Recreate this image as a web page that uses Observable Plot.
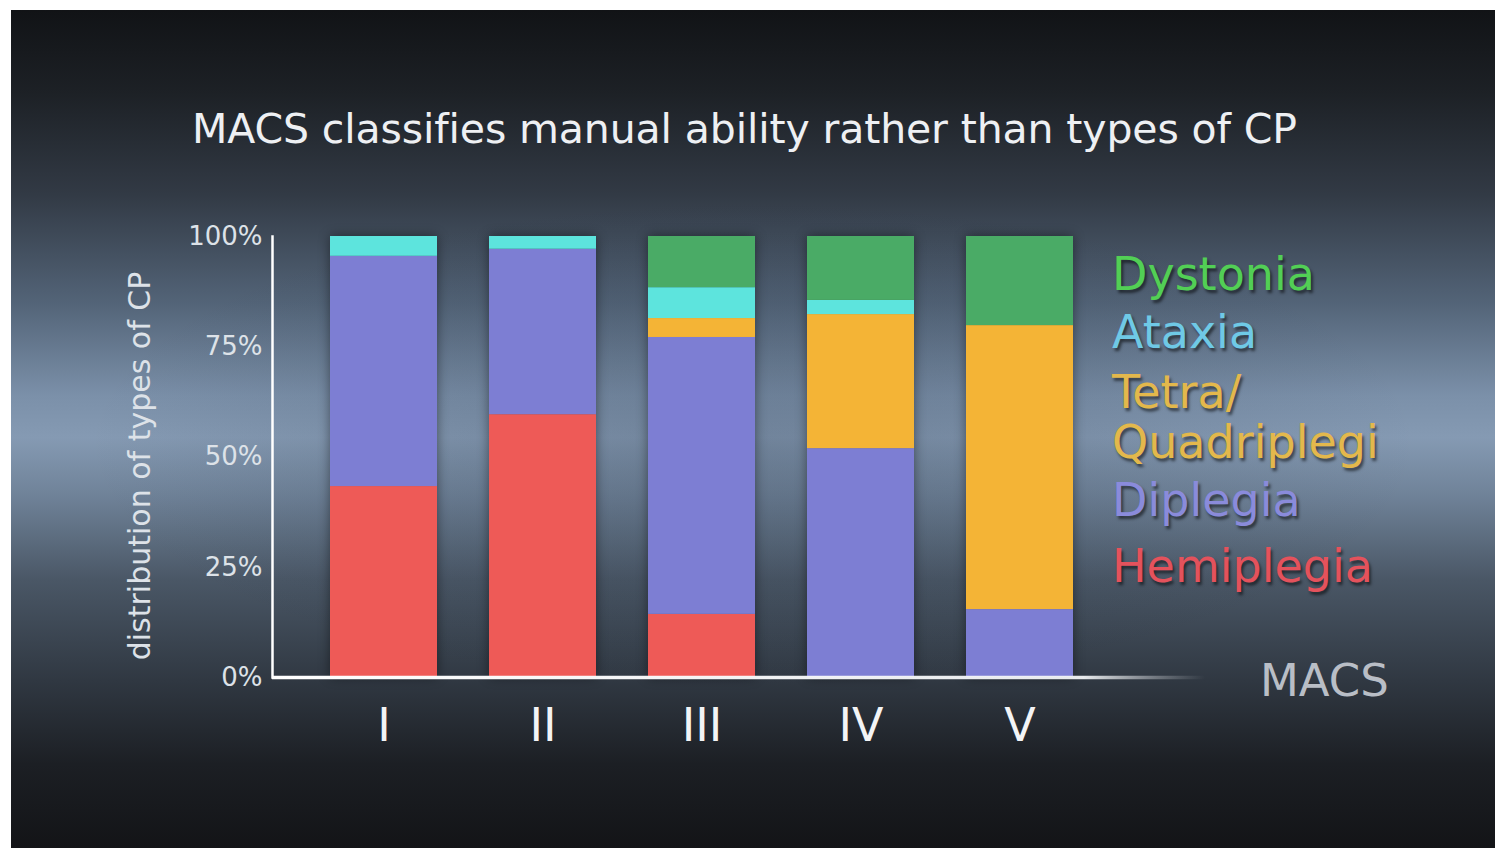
<!DOCTYPE html>
<html>
<head>
<meta charset="utf-8">
<script src="https://cdn.jsdelivr.net/npm/d3@7"></script>
<script src="https://cdn.jsdelivr.net/npm/@observablehq/plot@0.6"></script>
<style>
  html, body { margin: 0; padding: 0; background: #fff; width: 1495px; height: 848px; overflow: hidden; }
  #wrap {
    position: absolute; left: 11px; top: 10px; width: 1484px; height: 838px; overflow: hidden;
    font-family: "DejaVu Sans", sans-serif;
    background:
      radial-gradient(ellipse 45% 30% at 50% 52%, rgba(20,30,45,0.18), rgba(20,30,45,0) 100%),
      linear-gradient(to bottom, #111316 0%, #1d2126 10%, #323a45 22%, #536478 35%, #7b90a9 46%, #859ab3 51%, #6f8298 58%, #4a5766 68%, #303842 80%, #1c1f24 90%, #131417 100%);
  }
  #chart { position: absolute; left: 0; top: 0; }
  #title { position: absolute; left: 181px; top: 99px; font-size: 41px; line-height: 40px; color: #eef0f3; white-space: nowrap; }
  #legend { position: absolute; left: 1101px; top: 235px; font-size: 46px; }
  .entry { line-height: 58px; white-space: nowrap; text-shadow: 2px 3px 3px rgba(0,0,0,0.55); }
  .entry.two { line-height: 50px; margin-top: 6px; }
  .entry.e3 { margin-top: 4px; }
  .entry.e4 { margin-top: 8px; }
  #xname { position: absolute; left: 1249px; top: 648px; font-size: 45px; line-height: 45px; color: #b9bec6; white-space: nowrap; }
</style>
</head>
<body>
<div id="wrap">
  <div id="chart"></div>
  <div id="title"></div>
  <div id="legend"></div>
  <div id="xname"></div>
</div>
<script>
// ---- data ----
const titleText = "MACS classifies manual ability rather than types of CP";
const yLabel = "distribution of types of CP";
const xLabel = "MACS";
const levels = ["I", "II", "III", "IV", "V"];
const types = ["Hemiplegia", "Diplegia", "Tetra/Quadriplegi", "Ataxia", "Dystonia"];
const hemiplegia = [43.3, 59.6, 14.3, 0, 0];
const diplegia   = [52.2, 37.5, 62.8, 51.9, 15.4];
const tetra      = [0, 0, 4.3, 30.4, 64.4];
const ataxia     = [4.5, 2.9, 7.0, 3.2, 0];
const dystonia   = [0, 0, 11.6, 14.5, 20.2];
const yTicks = [0, 25, 50, 75, 100];
const barColors = ["#ee5a57", "#7d7ed3", "#f4b436", "#5de4dd", "#4aab66"];
const legendLabels = ["Dystonia", "Ataxia", "Tetra/\nQuadriplegi", "Diplegia", "Hemiplegia"];
const legendColors = ["#52cf55", "#6fc9e6", "#e3b84c", "#8a8bdb", "#e4525c"];

// ---- build table ----
const seriesValues = [hemiplegia, diplegia, tetra, ataxia, dystonia];
const rows = [];
types.forEach((t, k) => levels.forEach((l, i) => rows.push({level: l, type: t, value: seriesValues[k][i]})));

const chart = Plot.plot({
  width: 1484, height: 838,
  marginTop: 226, marginBottom: 171, marginLeft: 261, marginRight: 290,
  style: {background: "transparent", fontFamily: "DejaVu Sans, sans-serif", color: "#dde2e8"},
  x: {domain: levels, paddingInner: 0.33, paddingOuter: 0.586, align: 0.307},
  y: {domain: [0, 100]},
  color: {domain: types, range: barColors},
  marks: [
    Plot.barY(rows, {x: "level", y: "value", fill: "type"}),
    Plot.ruleY([0], {stroke: "#ffffff", strokeWidth: 3.5}),
    Plot.frame({anchor: "left", stroke: "#ffffff", strokeWidth: 2.5}),
    Plot.axisY({ticks: yTicks, tickFormat: d => d + "%", tickSize: 0, tickPadding: 10, fontSize: 26, fill: "#dde2e8",
      label: yLabel, labelAnchor: "center", labelOffset: 144, labelArrow: "none"}),
    Plot.axisX({tickSize: 0, tickPadding: 31, fontSize: 46, fill: "#f3f4f6", label: null})
  ]
});
document.getElementById("chart").appendChild(chart);

// ---- decorate ----
const svg = d3.select(chart);
const xr = chart.scale("x").range;
const yr = chart.scale("y").range;
const defs = svg.insert("defs", ":first-child");
const hg = defs.append("linearGradient").attr("id", "hfade").attr("gradientUnits", "userSpaceOnUse")
  .attr("x1", xr[0]).attr("x2", xr[1]).attr("y1", 0).attr("y2", 0);
hg.append("stop").attr("offset", 0).attr("stop-color", "#fff").attr("stop-opacity", 1);
hg.append("stop").attr("offset", 0.87).attr("stop-color", "#f2f4f6").attr("stop-opacity", 0.95);
hg.append("stop").attr("offset", 1).attr("stop-color", "#c8ccd2").attr("stop-opacity", 0);
const vg = defs.append("linearGradient").attr("id", "vfade").attr("gradientUnits", "userSpaceOnUse")
  .attr("x1", 0).attr("x2", 0).attr("y1", yr[1]).attr("y2", yr[0]);
vg.append("stop").attr("offset", 0).attr("stop-color", "#fff").attr("stop-opacity", 0);
vg.append("stop").attr("offset", 0.05).attr("stop-color", "#fff").attr("stop-opacity", 0.1);
vg.append("stop").attr("offset", 0.22).attr("stop-color", "#fff").attr("stop-opacity", 0.8);
vg.append("stop").attr("offset", 1).attr("stop-color", "#fff").attr("stop-opacity", 1);
svg.selectAll('g[aria-label="rule"] line').attr("stroke", "url(#hfade)");
svg.selectAll('g[aria-label="frame"] line, g[aria-label="frame"] path').attr("stroke", "url(#vfade)");
svg.selectAll('g[aria-label="y-axis label"] text').attr("font-size", 30).attr("x", -9);
svg.selectAll('g[aria-label="bar"]').style("filter", "drop-shadow(0px 0px 6px rgba(0,0,0,0.45))");

// ---- html text ----
const titleEl = document.getElementById("title");
titleEl.textContent = titleText;
const tw = titleEl.getBoundingClientRect().width;
titleEl.style.letterSpacing = ((1105 - tw) / (titleText.length - 1)) + "px";
document.getElementById("xname").textContent = xLabel;
const legend = d3.select("#legend");
legendLabels.forEach((lab, i) => {
  const parts = lab.split("\n");
  const div = legend.append("div").attr("class", "entry e" + i + (parts.length > 1 ? " two" : "")).style("color", legendColors[i]);
  parts.forEach((p, j) => { if (j) div.append("br"); div.append("span").text(p); });
});
</script>
</body>
</html>
